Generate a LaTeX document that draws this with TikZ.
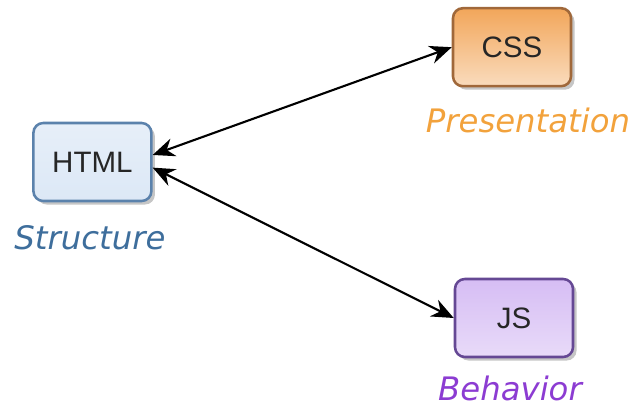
\documentclass[tikz,border=0pt]{standalone}
\usepackage{fontspec}
\setmainfont{Liberation Sans}
\newfontfamily\labelfont{DejaVu Sans}
\usepackage{tikz}
\usetikzlibrary{positioning, arrows.meta, shadows}

\definecolor{htmlfill}{HTML}{DCE8F6}
\definecolor{htmlline}{HTML}{5B82AC}
\definecolor{htmltext}{HTML}{3E6E9C}
\definecolor{cssfill}{HTML}{F2A65A}
\definecolor{cssline}{HTML}{A0683A}
\definecolor{csstext}{HTML}{F2A23C}
\definecolor{jsfill}{HTML}{D6BDF4}
\definecolor{jsline}{HTML}{654894}
\definecolor{jstext}{HTML}{8C3CD2}

\begin{document}
\begin{tikzpicture}[
    tech/.style={rectangle, line width=1.8pt, rounded corners=7pt,
                 minimum width=2.95cm, minimum height=1.95cm,
                 font=\fontsize{21}{24}\selectfont, text=black!85,
                 drop shadow={shadow xshift=2.5pt, shadow yshift=-2.5pt, opacity=0.45}},
    role/.style={font=\labelfont\itshape\fontsize{23}{26}\selectfont},
    arrow/.style={{Stealth[length=5.5mm, width=4.6mm]}-{Stealth[length=5.5mm, width=4.6mm]}, line width=1.5pt}
]
    \useasboundingbox (0,0) rectangle (16,-10.275);

    % Boxes
    \node[tech, draw=htmlline, top color=htmlfill!70!white, bottom color=htmlfill] (html) at (2.31,-4.05) {HTML};
    \node[tech, draw=cssline, top color=cssfill, bottom color=cssfill!40!white] (css) at (12.8,-1.18) {CSS};
    \node[tech, draw=jsline, top color=jsfill, bottom color=jsfill!55!white] (js) at (12.85,-7.95) {JS};

    % Roles
    \node[role, text=htmltext] (structure) at (2.25,-5.95) {Structure};
    \node[role, text=csstext] (presentation) at (13.2,-3.0) {Presentation};
    \node[role, text=jstext] (behavior) at (12.75,-9.7) {Behavior};

    % Links
    \draw[arrow] ([yshift=5pt]html.east) -- (css.west);
    \draw[arrow] ([yshift=-4pt]html.east) -- (js.west);
\end{tikzpicture}
\end{document}
